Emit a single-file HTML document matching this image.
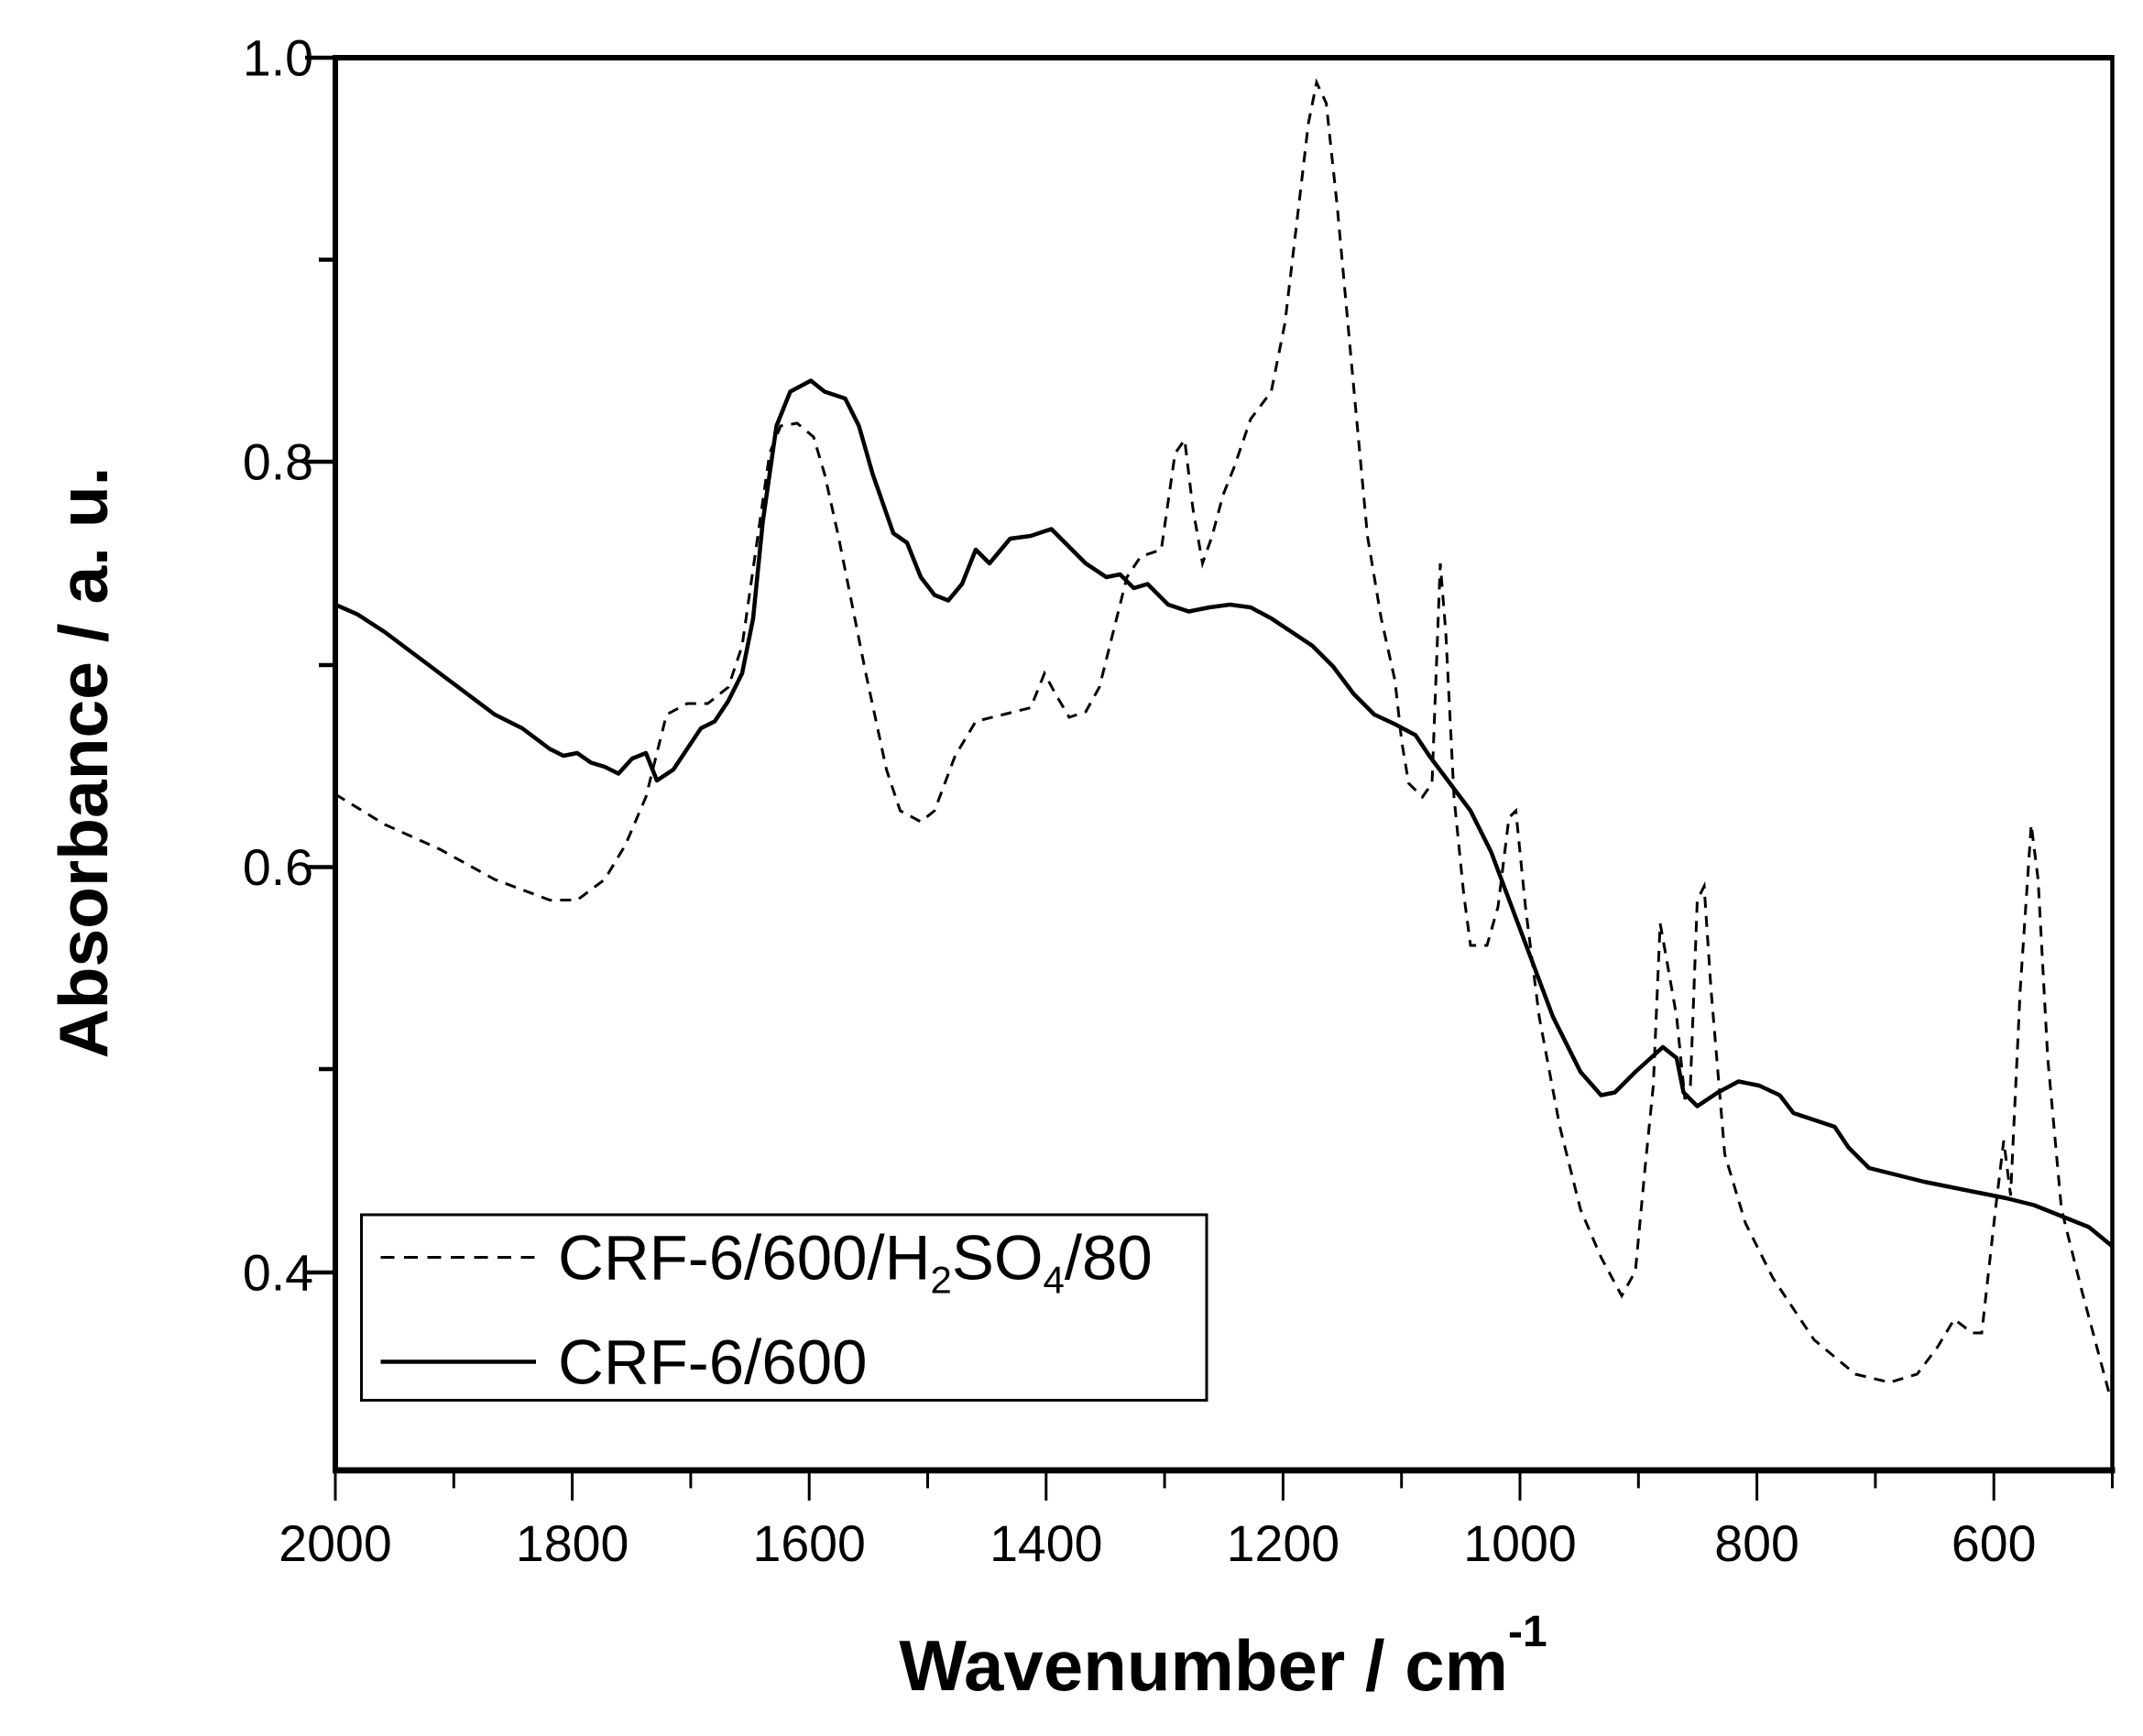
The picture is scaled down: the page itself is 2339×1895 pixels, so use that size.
<!DOCTYPE html>
<html><head><meta charset="utf-8"><style>html,body{margin:0;padding:0;background:#fff}svg{display:block}</style></head>
<body>
<svg width="2339" height="1895" viewBox="0 0 1559.33 1263.33" xmlns="http://www.w3.org/2000/svg" font-family="Liberation Sans, Arial, sans-serif">
<rect width="1559.33" height="1263.33" fill="#fff"/>
<polyline fill="none" stroke="#000" stroke-width="2" stroke-dasharray="8,6" points="244,578 280,600 320,618 360,640 400,655 420,655 440,640 455,615 470,580 485,520 500,512 515,512 530,500 540,470 550,400 560,330 568,310 580,308 592,318 600,345 610,390 620,440 630,490 645,560 655,590 670,598 680,590 695,550 710,525 730,520 750,515 760,490 768,505 778,522 790,518 800,500 810,460 820,420 830,405 845,400 855,330 862,320 868,370 875,410 882,390 890,360 898,340 910,305 925,285 935,235 945,150 952,90 958,60 965,75 973,150 983,260 995,390 1005,450 1015,495 1020,540 1025,570 1035,580 1042,570 1048,410 1052,460 1058,580 1065,650 1070,688 1082,688 1090,660 1098,595 1103,590 1110,660 1120,740 1135,820 1150,880 1165,915 1180,943 1190,925 1197,850 1203,790 1208,672 1213,700 1220,740 1226,800 1230,790 1235,655 1240,645 1245,720 1255,840 1270,890 1290,930 1320,975 1350,1000 1375,1006 1395,1000 1410,980 1422,960 1435,970 1442,970 1452,880 1458,830 1463,870 1470,720 1478,600 1483,640 1490,770 1500,880 1515,940 1535,1015 1537,1018"/>
<polyline fill="none" stroke="#000" stroke-width="3" stroke-linejoin="round" points="244,440 260,447 280,460 300,475 320,490 340,505 360,520 380,530 400,545 410,550 420,548 430,555 440,558 450,563 460,552 470,548 478,568 490,560 500,545 510,530 520,525 530,510 540,490 548,450 555,380 565,310 575,285 590,277 600,285 615,290 625,310 635,345 650,388 660,395 670,420 680,433 690,437 700,425 710,400 720,410 735,392 750,390 765,385 775,395 790,410 805,420 815,418 825,428 835,425 850,440 865,445 880,442 895,440 910,442 925,450 940,460 955,470 970,485 985,505 1000,520 1015,527 1030,535 1040,550 1055,570 1070,590 1085,620 1100,660 1115,700 1130,740 1150,780 1165,797 1175,795 1190,780 1210,762 1220,770 1225,795 1235,805 1250,795 1265,787 1280,790 1295,797 1305,810 1320,815 1335,820 1345,835 1360,850 1380,855 1400,860 1420,864 1440,868 1460,872 1480,877 1500,885 1520,893 1537,907"/>
<line x1="244" y1="42" x2="1537" y2="42" stroke="#000" stroke-width="4"/>
<line x1="244" y1="40" x2="244" y2="1072" stroke="#000" stroke-width="4"/>
<line x1="1537" y1="40" x2="1537" y2="1072" stroke="#000" stroke-width="3"/>
<line x1="242" y1="1070" x2="1539" y2="1070" stroke="#000" stroke-width="4.5"/>
<g stroke="#000" stroke-width="3">
<line x1="222" y1="42" x2="244" y2="42"/>
<line x1="232" y1="189" x2="244" y2="189"/>
<line x1="222" y1="336" x2="244" y2="336"/>
<line x1="232" y1="484" x2="244" y2="484"/>
<line x1="222" y1="631" x2="244" y2="631"/>
<line x1="232" y1="778" x2="244" y2="778"/>
<line x1="222" y1="926" x2="244" y2="926"/>
</g>
<g stroke="#000" stroke-width="2">
<line x1="244" y1="1070" x2="244" y2="1092"/>
<line x1="330.2" y1="1070" x2="330.2" y2="1083"/>
<line x1="416.4" y1="1070" x2="416.4" y2="1092"/>
<line x1="502.6" y1="1070" x2="502.6" y2="1083"/>
<line x1="588.8" y1="1070" x2="588.8" y2="1092"/>
<line x1="675" y1="1070" x2="675" y2="1083"/>
<line x1="761.2" y1="1070" x2="761.2" y2="1092"/>
<line x1="847.4" y1="1070" x2="847.4" y2="1083"/>
<line x1="933.6" y1="1070" x2="933.6" y2="1092"/>
<line x1="1019.8" y1="1070" x2="1019.8" y2="1083"/>
<line x1="1106" y1="1070" x2="1106" y2="1092"/>
<line x1="1192.2" y1="1070" x2="1192.2" y2="1083"/>
<line x1="1278.4" y1="1070" x2="1278.4" y2="1092"/>
<line x1="1364.6" y1="1070" x2="1364.6" y2="1083"/>
<line x1="1450.8" y1="1070" x2="1450.8" y2="1092"/>
<line x1="1537" y1="1070" x2="1537" y2="1083"/>
</g>
<g font-size="37" text-anchor="end">
<text x="228" y="55">1.0</text>
<text x="228" y="349">0.8</text>
<text x="228" y="644">0.6</text>
<text x="228" y="939">0.4</text>
</g>
<g font-size="37" text-anchor="middle">
<text x="244" y="1136">2000</text>
<text x="416.4" y="1136">1800</text>
<text x="588.8" y="1136">1600</text>
<text x="761.2" y="1136">1400</text>
<text x="933.6" y="1136">1200</text>
<text x="1106" y="1136">1000</text>
<text x="1278.4" y="1136">800</text>
<text x="1450.8" y="1136">600</text>
</g>
<text x="890" y="1230" font-size="52" font-weight="bold" text-anchor="middle">Wavenumber / cm<tspan font-size="32" dy="-32">-1</tspan></text>
<text transform="translate(78,555) rotate(-90)" font-size="50" font-weight="bold" text-anchor="middle">Absorbance / a. u.</text>
<rect x="263" y="884" width="615" height="135" fill="none" stroke="#000" stroke-width="2"/>
<line x1="277" y1="915" x2="390" y2="915" stroke="#000" stroke-width="2" stroke-dasharray="10,7"/>
<line x1="277" y1="991" x2="390" y2="991" stroke="#000" stroke-width="3"/>
<text x="406" y="931" font-size="46">CRF-6/600/H<tspan font-size="28" dy="10">2</tspan><tspan dy="-10">SO</tspan><tspan font-size="28" dy="10">4</tspan><tspan dy="-10">/80</tspan></text>
<text x="406" y="1007" font-size="46">CRF-6/600</text>
</svg>
</body></html>
